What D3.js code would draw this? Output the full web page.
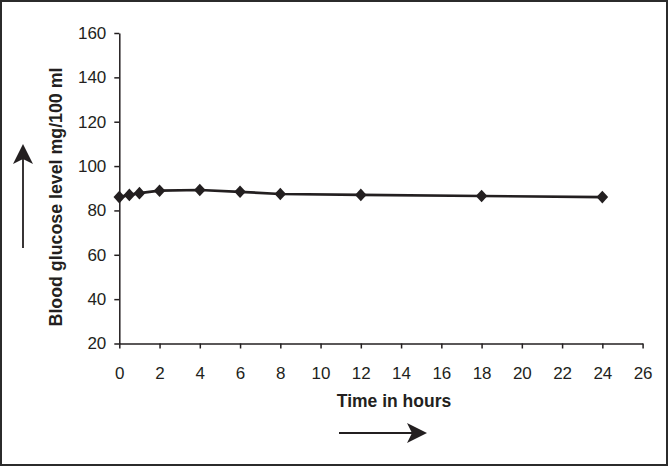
<!DOCTYPE html>
<html><head><meta charset="utf-8">
<script src="https://cdn.jsdelivr.net/npm/d3@7"></script>
<style>html,body{margin:0;padding:0;background:#fff;}svg{display:block;}</style>
</head><body>
<svg id="chart" width="669" height="467"></svg>
<script>
const hours = [0, 0.5, 1, 2, 4, 6, 8, 12, 18, 24];
const glucose = [86, 87, 87.8, 88.9, 89.2, 88.4, 87.4, 87, 86.5, 86];
const xTicks = [0,2,4,6,8,10,12,14,16,18,20,22,24,26];
const yTicks = [20,40,60,80,100,120,140,160];
const xTitle = "Time in hours";
const yTitle = "Blood glucose level mg/100 ml";

const svg = d3.select("#chart");
const W = 669, H = 467;
const ink = "#231f20";
const font = "Liberation Sans, Arial, sans-serif";

svg.append("rect").attr("x",1).attr("y",1).attr("width",W-3).attr("height",H-3)
  .attr("fill","#fff").attr("stroke","#2b2b2b").attr("stroke-width",2);

const x = d3.scaleLinear().domain([0,26]).range([119.3,642.6]);
const y = d3.scaleLinear().domain([20,160]).range([343.5,33]);

const xAxis = svg.append("g").attr("transform",`translate(0,${y(20)})`)
  .call(d3.axisBottom(x).tickValues(xTicks).tickSize(5).tickPadding(18).tickSizeOuter(0));
const yAxis = svg.append("g").attr("transform",`translate(${x(0)},0)`)
  .call(d3.axisLeft(y).tickValues(yTicks).tickSize(5).tickPadding(8).tickSizeOuter(0));

[xAxis,yAxis].forEach(g=>{
  g.select(".domain").attr("stroke",ink).attr("stroke-width",1.5);
  g.selectAll(".tick line").attr("stroke",ink).attr("stroke-width",1.5);
  g.selectAll(".tick text").attr("fill",ink).attr("font-family",font).attr("font-size",17);
});

const line = d3.line().x((d,i)=>x(hours[i])).y(d=>y(d));
svg.append("path").datum(glucose).attr("d",line).attr("fill","none")
  .attr("stroke",ink).attr("stroke-width",2.7).attr("stroke-linejoin","round");

const diamond = {draw(ctx, size){ const w=5.8, h=6.3; ctx.moveTo(0,-h); ctx.lineTo(w,0); ctx.lineTo(0,h); ctx.lineTo(-w,0); ctx.closePath(); }};
svg.append("g").selectAll("path").data(glucose).join("path")
  .attr("d", d3.symbol().type(diamond))
  .attr("transform",(d,i)=>`translate(${x(hours[i])},${y(d)})`)
  .attr("fill",ink);

svg.append("text").attr("x",394).attr("y",401).attr("text-anchor","middle")
  .attr("dominant-baseline","central")
  .attr("font-family",font).attr("font-weight","bold")
  .attr("font-size",17.5).attr("fill",ink).text(xTitle);

svg.append("text").attr("transform","translate(56,197) rotate(-90)").attr("text-anchor","middle")
  .attr("dominant-baseline","central")
  .attr("font-family",font).attr("font-weight","bold")
  .attr("font-size",17.8).attr("fill",ink).text(yTitle);

// arrows
const defs = svg.append("defs");
defs.append("marker").attr("id","ah").attr("viewBox","0 0 20 20").attr("refX",18).attr("refY",10)
  .attr("markerWidth",20).attr("markerHeight",20).attr("markerUnits","userSpaceOnUse").attr("orient","auto")
  .append("path").attr("d","M0,0 L20,10 L0,20 L5,10 Z").attr("fill",ink);
svg.append("line").attr("x1",339).attr("y1",433).attr("x2",425).attr("y2",433)
  .attr("stroke",ink).attr("stroke-width",1.8).attr("marker-end","url(#ah)");
svg.append("line").attr("x1",23).attr("y1",248).attr("x2",23).attr("y2",146)
  .attr("stroke",ink).attr("stroke-width",1.8).attr("marker-end","url(#ah)");
</script>
</body></html>
